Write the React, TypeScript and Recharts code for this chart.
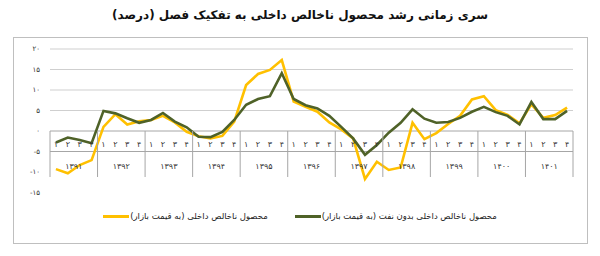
import React from 'react';
import { LineChart, Line, XAxis, YAxis, ReferenceLine } from 'recharts';

const years = ['۱۳۹۱', '۱۳۹۲', '۱۳۹۳', '۱۳۹۴', '۱۳۹۵', '۱۳۹۶', '۱۳۹۷', '۱۳۹۸', '۱۳۹۹', '۱۴۰۰', '۱۴۰۱'];
const quarters = ['۱', '۲', '۳', '۴'];

// GDP at market prices, quarterly growth (%)
const gdp = [
  -9.3, -10.3, -8.3, -7.1,
  1.0, 4.1, 1.6, 2.4,
  2.7, 3.7, 2.1, -0.2,
  -1.3, -1.8, -1.2, 2.3,
  11.2, 13.9, 14.9, 17.3,
  7.2, 5.9, 4.7, 2.1,
  0.4, -1.8, -11.7, -7.5,
  -9.5, -8.9, 2.0, -2.0,
  -0.5, 1.7, 3.7, 7.7,
  8.5, 5.1, 3.9, 1.9,
  6.5, 3.2, 3.9, 5.7,
];

// non-oil GDP at market prices (%)
const nonOil = [
  -2.8, -1.6, -2.2, -3.0,
  4.9, 4.3, 3.1, 2.0,
  2.7, 4.4, 2.3, 0.9,
  -1.4, -1.5, -0.2, 2.7,
  6.4, 7.8, 8.5, 14.1,
  7.8, 6.3, 5.5, 3.7,
  1.0, -1.8, -5.8, -3.4,
  -0.4, 2.0, 5.3, 3.0,
  2.0, 2.2, 3.2, 4.7,
  5.9, 4.6, 3.7, 1.6,
  7.1, 2.9, 2.9, 4.9,
];

const yTicks = [-15, -10, -5, 0, 5, 10, 15, 20];
const gridValues = [20, 15, 10, 5];

const seriesNames = {
  gdp: 'محصول ناخالص داخلی (به قیمت بازار)',
  nonOil: 'محصول ناخالص داخلی بدون نفت (به قیمت بازار)',
};

const YELLOW = '#FFC000';
const GREEN = '#4F6228';
const FONT = '"DejaVu Sans", sans-serif';

const data = gdp.map((v, i) => ({
  key: `${years[Math.floor(i / 4)]}-${quarters[i % 4]}`,
  q: quarters[i % 4],
  year: years[Math.floor(i / 4)],
  gdp: v,
  nonOil: nonOil[i],
}));

// plot geometry
const W = 600;
const H = 256;
const PLOT_L = 50;
const PLOT_R = 573;
const PLOT_T = 49;
const PLOT_B = 192.5;
const Y_MAX = 20;
const Y_MIN = -15;
const ZERO_Y = PLOT_T + (Y_MAX / (Y_MAX - Y_MIN)) * (PLOT_B - PLOT_T);
const BAND = (PLOT_R - PLOT_L) / data.length;

const toFa = (n: number) =>
  (n < 0 ? '-' : '') + String(Math.abs(n)).replace(/\d/g, (d) => '۰۱۲۳۴۵۶۷۸۹'[Number(d)]);

const CategoryTick = (props: any) => {
  const { x, payload, index } = props;
  const half = payload && payload.offset ? payload.offset : BAND / 2;
  const row = data[index];
  if (!row) return null;
  const q = index % 4;
  return (
    <g>
      <text x={x} y={ZERO_Y + 13} textAnchor="middle" dominantBaseline="central" fontSize={8} fill="#333" fontFamily={FONT}>
        {row.q}
      </text>
      {q === 0 && <line x1={x - half} x2={x - half} y1={ZERO_Y} y2={ZERO_Y + 46} stroke="#a6a6a6" strokeWidth={1} />}
      {index === data.length - 1 && (
        <line x1={x + half} x2={x + half} y1={ZERO_Y} y2={ZERO_Y + 46} stroke="#a6a6a6" strokeWidth={1} />
      )}
      {q === 1 && (
        <text x={x + half} y={ZERO_Y + 35} textAnchor="middle" dominantBaseline="central" fontSize={8} fill="#333" fontFamily={FONT}>
          {row.year}
        </text>
      )}
    </g>
  );
};

const LegendItem = ({ color, label }: { color: string; label: string }) => (
  <div style={{ display: 'flex', alignItems: 'center', gap: 1 }}>
    <span style={{ fontSize: 8.5, color: '#222', whiteSpace: 'nowrap' }}>{label}</span>
    <span style={{ display: 'inline-block', width: 26, height: 3, background: color }} />
  </div>
);

export default function App() {
  return (
    <div style={{ position: 'absolute', left: 0, top: 0, width: W, height: H, background: '#fff', fontFamily: FONT }}>
      <div
        style={{
          position: 'absolute',
          top: 8,
          width: W,
          textAlign: 'center',
          direction: 'rtl',
          fontSize: 12,
          fontWeight: 'bold',
          color: '#111',
        }}
      >
        سری زمانی رشد محصول ناخالص داخلی به تفکیک فصل (درصد)
      </div>
      <div style={{ position: 'absolute', left: 13, top: 37, width: 573, height: 205, border: '1px solid #bfbfbf' }} />
      <div style={{ position: 'absolute', left: 0, top: 0 }}>
        <LineChart
          width={W}
          height={H}
          data={data}
          margin={{ top: PLOT_T, right: W - PLOT_R, left: 10, bottom: H - PLOT_B - 20 }}
        >
          {gridValues.map((v) => (
            <ReferenceLine key={v} y={v} stroke="#cfcfcf" strokeWidth={1} />
          ))}
          <ReferenceLine y={0} stroke="#a6a6a6" strokeWidth={1} />
          <ReferenceLine y={-5} stroke="#a6a6a6" strokeWidth={1} />
          <XAxis
            dataKey="key"
            scale="band"
            interval={0}
            height={20}
            axisLine={false}
            tickLine={false}
            tick={<CategoryTick />}
          />
          <YAxis
            domain={[Y_MIN, Y_MAX]}
            ticks={yTicks}
            width={40}
            axisLine={false}
            tickLine={false}
            tickSize={0}
            tickMargin={10}
            tickFormatter={toFa}
            tick={{ fontSize: 7, fill: '#333', fontFamily: FONT }}
          />
          <Line
            type="linear"
            dataKey="gdp"
            name={seriesNames.gdp}
            stroke={YELLOW}
            strokeWidth={2.6}
            dot={false}
            isAnimationActive={false}
          />
          <Line
            type="linear"
            dataKey="nonOil"
            name={seriesNames.nonOil}
            stroke={GREEN}
            strokeWidth={2.6}
            dot={false}
            isAnimationActive={false}
          />
        </LineChart>
      </div>
      <div
        style={{
          position: 'absolute',
          top: 211,
          width: W,
          display: 'flex',
          direction: 'rtl',
          justifyContent: 'center',
          gap: 27,
        }}
      >
        <LegendItem color={GREEN} label={seriesNames.nonOil} />
        <LegendItem color={YELLOW} label={seriesNames.gdp} />
      </div>
    </div>
  );
}
